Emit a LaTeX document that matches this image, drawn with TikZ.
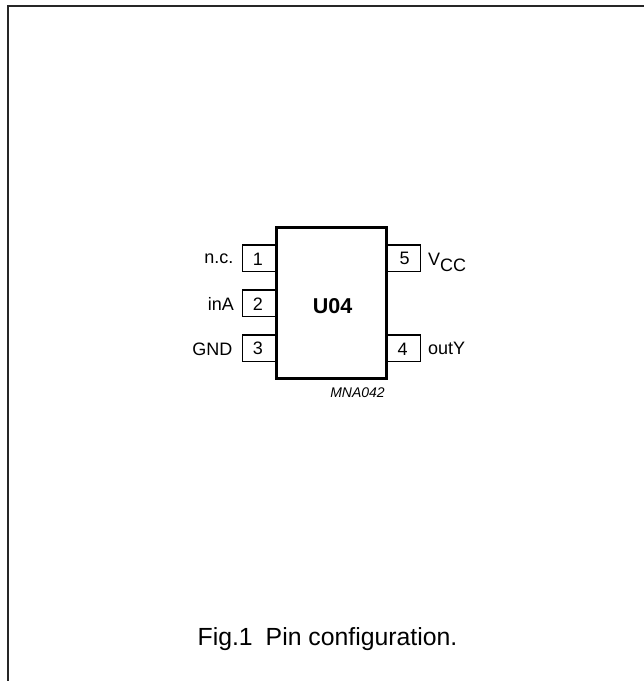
\documentclass[tikz,border=0pt]{standalone}
\usepackage{fontspec}
\setmainfont{Liberation Sans}
\tikzset{
  lbl/.style={inner sep=0pt,font=\fontsize{18}{20}\selectfont,anchor=base},
  pinbox/.style={draw=black,line width=1.1pt,fill=white},
  body/.style={draw=black,line width=3pt,fill=white},
  frameline/.style={draw=black!85,line width=2pt}
}
\begin{document}
\begin{tikzpicture}[x=1pt,y=-1pt]
\useasboundingbox (0,0) rectangle (644,681);
\fill[white] (0,0) rectangle (644,681);
\coordinate (fa) at (8,681);
\coordinate (fb) at (8,6);
\coordinate (fc) at (644,6);
\draw[frameline] (fa) -- (fb) -- (fc);
\draw[pinbox] (276,245) rectangle (242.5,271.5);
\draw[pinbox] (276,290) rectangle (242.5,316.5);
\draw[pinbox] (276,335) rectangle (242.5,361.5);
\draw[pinbox] (387,245) rectangle (420.5,271.5);
\draw[pinbox] (387,335) rectangle (420.5,361.5);
\draw[body] (276.5,227.5) rectangle (386.5,378.5);
\node[lbl] (p1) at (258,265) {1};
\node[lbl] (p2) at (258,310.5) {2};
\node[lbl] (p3) at (258,354) {3};
\node[lbl] (p5) at (404.7,264) {5};
\node[lbl] (p4) at (402.7,355.7) {4};
\node[lbl,anchor=base east] (nc) at (233.5,263) {n.c.};
\node[lbl,anchor=base east] (ina) at (234,310) {inA};
\node[lbl,anchor=base east] (gnd) at (232.5,355) {GND};
\node[lbl,anchor=base west] (vcc) at (428,265) {V\raisebox{-6pt}{CC}};
\node[lbl,anchor=base west] (outy) at (428,354) {outY};
\node[lbl,font=\fontsize{21.5}{24}\selectfont\bfseries] (u) at (332.5,313) {U04};
\node[lbl,font=\fontsize{14}{16}\selectfont\itshape] (m) at (357.5,397.7) {MNA042};
\node[lbl,font=\fontsize{24.8}{28}\selectfont] (cap) at (327.5,645) {Fig.1\hspace{13pt}Pin configuration.};
\end{tikzpicture}
\end{document}
